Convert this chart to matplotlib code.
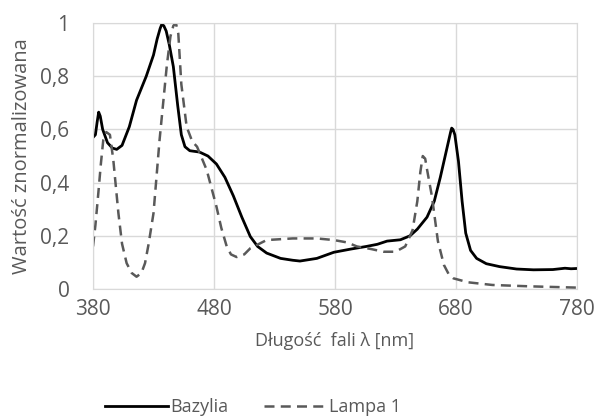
import matplotlib.pyplot as plt
from matplotlib.lines import Line2D

# Bazylia (solid)
baz_nm = [380, 382, 383.5, 384.7, 386, 388, 392, 396, 399.6, 404, 410, 416, 424, 430, 433, 435.5, 436.8, 438.5,
          440.5, 443, 446.4, 450, 453, 456, 460, 468, 475, 482, 489, 496, 503, 510, 516, 523.5, 535, 545,
          551, 565, 579, 593, 606, 615, 623, 634, 642, 648, 656, 662, 667, 671, 674, 675.5, 676.4, 677.5,
          679, 682, 685, 688, 692, 697, 705, 716, 730, 744, 760, 770, 775, 780]
baz_val = [0.57, 0.58, 0.63, 0.665, 0.65, 0.60, 0.55, 0.53, 0.525, 0.54, 0.61, 0.71, 0.80, 0.88, 0.94, 0.98, 0.995, 0.99,
           0.97, 0.92, 0.836, 0.69, 0.58, 0.535, 0.52, 0.515, 0.50, 0.47, 0.42, 0.35, 0.27, 0.197, 0.16, 0.135, 0.115, 0.108,
           0.105, 0.115, 0.138, 0.15, 0.16, 0.168, 0.18, 0.185, 0.20, 0.225, 0.27, 0.33, 0.42, 0.50, 0.56, 0.59, 0.605, 0.6,
           0.58, 0.48, 0.33, 0.21, 0.145, 0.115, 0.095, 0.084, 0.075, 0.072, 0.073, 0.078, 0.076, 0.077]

# Lampa 1 (dashed)
lamp_nm = [380, 382, 384.4, 386.5, 388.5, 391, 394, 396.8, 399, 401, 404, 407.8, 412, 416, 420, 423, 426, 430, 435,
           441, 444, 446.4, 448.5, 450.5, 453, 457.4, 462, 466, 474, 482, 486, 490.5, 494, 498.7, 505, 510, 523.5,
           545, 551, 565, 579, 590, 598, 610, 620, 630, 638, 644, 648, 650.5, 652.5, 654.5, 656, 660, 665,
           670, 674, 677.8, 690, 710, 740, 780]
lamp_val = [0.16, 0.24, 0.36, 0.47, 0.56, 0.59, 0.58, 0.485, 0.38, 0.285, 0.17, 0.097, 0.06, 0.046, 0.06, 0.097, 0.17, 0.285, 0.56,
            0.84, 0.95, 0.99, 1.0, 0.96, 0.77, 0.61, 0.555, 0.535, 0.447, 0.31, 0.23, 0.16, 0.13, 0.12, 0.13, 0.153, 0.184,
            0.19, 0.19, 0.19, 0.184, 0.175, 0.16, 0.15, 0.14, 0.14, 0.16, 0.22, 0.33, 0.44, 0.50, 0.49, 0.45, 0.35, 0.18,
            0.09, 0.055, 0.04, 0.025, 0.015, 0.01, 0.005]

x_ticks = [380, 480, 580, 680, 780]
y_ticks = [0, 0.2, 0.4, 0.6, 0.8, 1]
y_labels = ['0', '0,2', '0,4', '0,6', '0,8', '1']

plt.rcParams['font.family'] = ['Open Sans', 'DejaVu Sans']
txt = '#595959'
grid = '#d9d9d9'

fig = plt.figure(figsize=(5.98, 4.2), dpi=100)
ax = fig.add_axes([0.1555, 0.312, 0.8095, 0.633])

ax.plot(baz_nm, baz_val, color='black', lw=2, label='Bazylia', solid_joinstyle='round')
ax.plot(lamp_nm, lamp_val, color='#595959', lw=1.8, ls=(0, (4, 2.5)), label='Lampa 1')

ax.set_xlim(380, 780)
ax.set_ylim(0, 1)
ax.set_xticks(x_ticks)
ax.set_yticks(y_ticks)
ax.set_yticklabels(y_labels)
ax.grid(True, color=grid, lw=1)
ax.set_axisbelow(True)
for s in ax.spines.values():
    s.set_color(grid)
ax.tick_params(length=0, labelsize=15, colors=txt)
ax.tick_params(axis='x', pad=7)
ax.tick_params(axis='y', pad=17)

ax.set_xlabel('Długość  fali λ [nm]', fontsize=13, color=txt, labelpad=9)
ax.set_ylabel('Wartość znormalizowana', fontsize=14.5, color=txt, labelpad=6)

handles = [Line2D([], [], color='black', lw=2),
           Line2D([], [], color='#595959', lw=1.8, ls=(0, (4, 2.5)))]
fig.legend(handles, ['Bazylia', 'Lampa 1'], loc='center', bbox_to_anchor=(0.423, 0.03),
           ncol=2, frameon=False, fontsize=13, handlelength=3.5, handletextpad=0.1,
           columnspacing=2.0, labelcolor=txt)

fig.savefig('out.png', dpi=100)
